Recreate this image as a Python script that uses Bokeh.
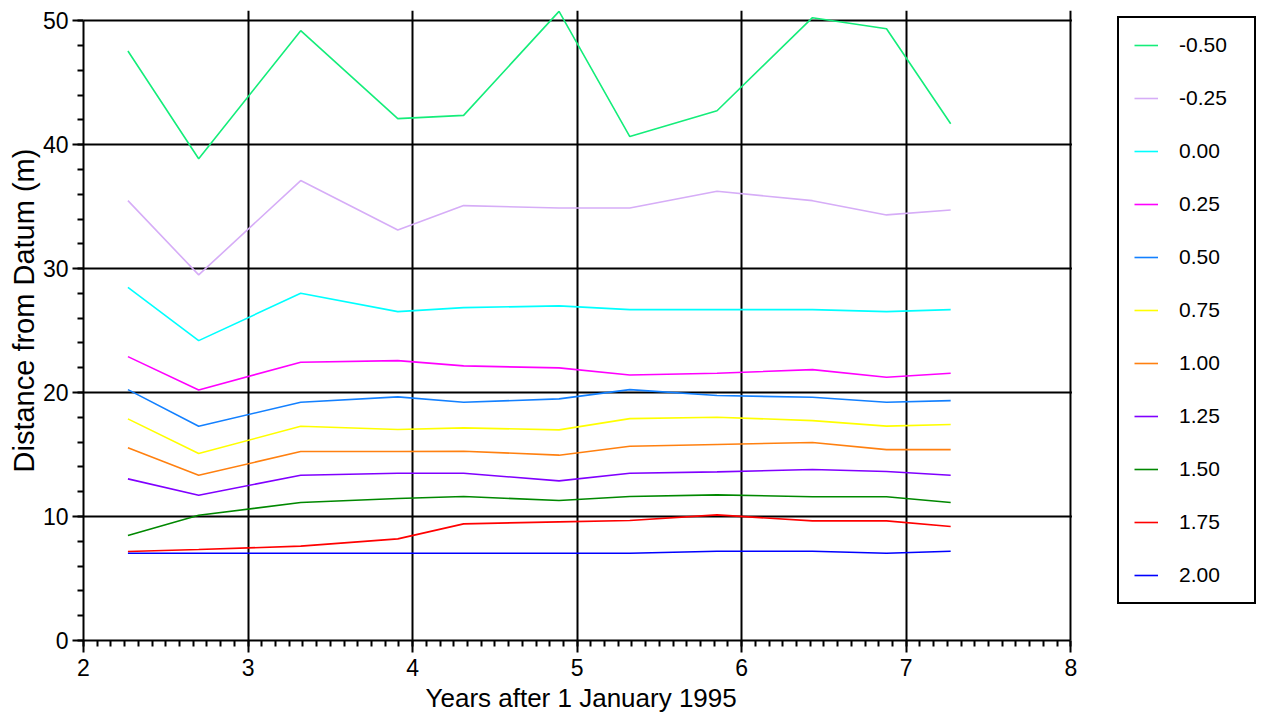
from bokeh.plotting import figure
from bokeh.models import (Range1d, FixedTicker, Legend, LegendItem, Title, BoxAnnotation)
from bokeh.embed import file_html
from bokeh.resources import INLINE

# Survey epochs (years after 1 January 1995)
years = [2.27, 2.70, 3.32, 3.91, 4.31, 4.89, 5.32, 5.85, 6.43, 6.88, 7.27]

# Distance from datum (m) for each elevation contour
series_labels = ["-0.50", "-0.25", "0.00", "0.25", "0.50", "0.75",
                 "1.00", "1.25", "1.50", "1.75", "2.00"]

d_m050 = [47.55, 38.86, 49.19, 42.10, 42.36, 50.75, 40.65, 42.73, 50.24, 49.35, 41.69]
d_m025 = [35.48, 29.49, 37.10, 33.12, 35.08, 34.89, 34.89, 36.24, 35.48, 34.33, 34.73]
d_000 = [28.49, 24.19, 28.01, 26.53, 26.85, 26.99, 26.69, 26.69, 26.69, 26.53, 26.69]
d_025 = [22.90, 20.21, 22.45, 22.58, 22.15, 21.99, 21.42, 21.56, 21.85, 21.24, 21.56]
d_050 = [20.24, 17.28, 19.22, 19.65, 19.22, 19.49, 20.24, 19.76, 19.62, 19.22, 19.35]
d_075 = [17.88, 15.08, 17.28, 17.02, 17.15, 16.99, 17.90, 18.01, 17.74, 17.29, 17.42]
d_100 = [15.54, 13.33, 15.24, 15.24, 15.27, 14.95, 15.67, 15.81, 15.97, 15.40, 15.40]
d_125 = [13.04, 11.72, 13.33, 13.49, 13.49, 12.88, 13.49, 13.60, 13.79, 13.63, 13.33]
d_150 = [8.47, 10.10, 11.13, 11.45, 11.61, 11.29, 11.61, 11.75, 11.59, 11.59, 11.13]
d_175 = [7.18, 7.34, 7.61, 8.20, 9.41, 9.57, 9.68, 10.13, 9.65, 9.65, 9.19]
d_200 = [7.04, 7.04, 7.04, 7.04, 7.04, 7.04, 7.04, 7.20, 7.20, 7.04, 7.20]

series_values = [d_m050, d_m025, d_000, d_025, d_050, d_075,
                 d_100, d_125, d_150, d_175, d_200]

series_colors = ["#14ED7A", "#D6ADF7", "#00FFFF", "#FF00FF", "#1380FF", "#FFFF00",
                 "#FF8010", "#8000FF", "#008800", "#FF0000", "#0000FF"]

x_major = [2, 3, 4, 5, 6, 7, 8]
x_minor = [2 + k / 12 for k in range(0, 73)]
y_major = [0, 10, 20, 30, 40, 50]
y_minor = list(range(0, 51, 2))

x_title = "Years after 1 January 1995"
y_title = "Distance from Datum (m)"

FONT = "Liberation Sans"

# the frame runs on past x=8 so the key can sit beside the bounded axes
p = figure(width=1262, height=719, output_backend="svg", toolbar_location=None,
           x_range=Range1d(2, 9.165), y_range=Range1d(0, 50.82),
           min_border_left=83, min_border_right=0,
           min_border_top=10, min_border_bottom=79)
p.background_fill_color = "white"
p.border_fill_color = "white"
p.outline_line_color = None

renderers = []
for vals, col in zip(series_values, series_colors):
    r = p.line(years, vals, line_color=col, line_width=1.6)
    renderers.append(r)

# axes
p.xaxis.ticker = FixedTicker(ticks=x_major, minor_ticks=x_minor)
p.yaxis.ticker = FixedTicker(ticks=y_major, minor_ticks=y_minor)
p.xaxis.bounds = (2, 8)
p.yaxis.bounds = (0, 50)
for ax in (p.xaxis[0], p.yaxis[0]):
    ax.axis_line_color = "black"
    ax.axis_line_width = 2
    ax.major_tick_line_color = "black"
    ax.major_tick_line_width = 2
    ax.minor_tick_line_color = "black"
    ax.minor_tick_line_width = 2
    ax.major_tick_in = 0
    ax.minor_tick_in = 0
    ax.major_label_text_font = FONT
    ax.major_label_text_font_size = "23px"
    ax.major_label_text_color = "black"

p.xaxis.major_tick_out = 12
p.xaxis.minor_tick_out = 6
p.yaxis.major_tick_out = 11
p.yaxis.minor_tick_out = 6
p.xaxis.major_label_standoff = 6
p.yaxis.major_label_standoff = 4

# grid
p.xgrid.ticker = FixedTicker(ticks=x_major)
p.ygrid.ticker = FixedTicker(ticks=y_major)
for g in (p.xgrid[0], p.ygrid[0]):
    g.grid_line_color = "black"
    g.grid_line_width = 2
p.xgrid.bounds = (0, 50)

# blank the strip right of x=8 so the grid ends at the plot border
p.add_layout(BoxAnnotation(left=8.007, fill_color="white", fill_alpha=1.0,
                           line_color=None, level="underlay"))

# axis titles, placed under / beside the bounded plotting area
p.add_layout(Title(text=x_title, align="left", offset=342,
                   text_font=FONT, text_font_size="26px",
                   text_font_style="normal", text_color="black",
                   standoff=4), "below")
p.add_layout(Title(text=y_title, align="left", offset=168,
                   text_font=FONT, text_font_size="29px",
                   text_font_style="normal", text_color="black",
                   standoff=0), "left")

# legend to the right of the bounded plotting area
items = [LegendItem(label=lab, renderers=[r]) for lab, r in zip(series_labels, renderers)]
legend = Legend(items=items, location=(1034, 36), margin=0,
                padding=15, spacing=29,
                glyph_width=24, glyph_height=24,
                label_height=24, label_width=60, label_standoff=21,
                label_text_font=FONT, label_text_font_size="21px",
                label_text_color="black", label_text_baseline="middle",
                border_line_color="black", border_line_width=2,
                border_line_alpha=1.0,
                background_fill_color="white", background_fill_alpha=1.0)
p.add_layout(legend, "center")

open("out.html", "w").write(file_html(p, INLINE))
